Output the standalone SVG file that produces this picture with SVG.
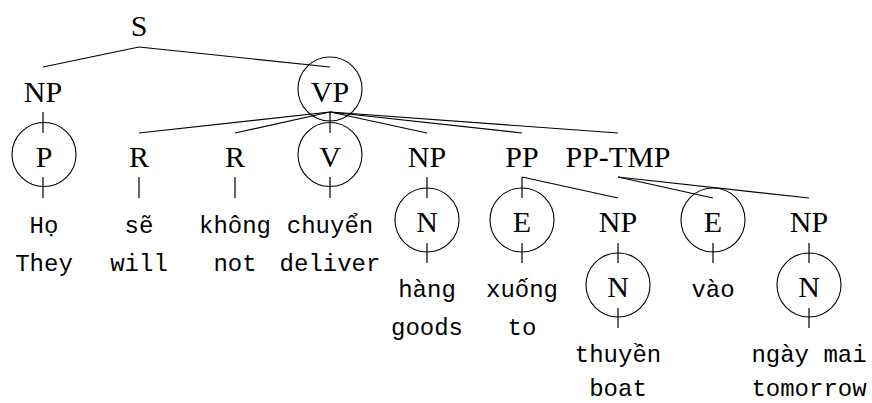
<svg xmlns="http://www.w3.org/2000/svg" width="872" height="403" viewBox="0 0 872 403">
<style>
.lab{font-family:"Liberation Serif","Times New Roman",serif;font-size:30px;fill:#000;text-anchor:middle}
.w{font-family:"Liberation Mono","Courier New",monospace;font-size:24px;fill:#000;text-anchor:middle}
.c{fill:none;stroke:#000;stroke-width:1.1}
line{stroke:#000;stroke-width:1.2}
</style>
<rect width="872" height="403" fill="#fff"/>
<g id="connectors">
<line x1="139" y1="47" x2="43" y2="67"/>
<line x1="139" y1="47" x2="330" y2="67"/>
<line x1="43" y1="112" x2="43" y2="133"/>
<line x1="330" y1="112" x2="139" y2="133"/>
<line x1="330" y1="112" x2="235" y2="133"/>
<line x1="330" y1="112" x2="330" y2="133"/>
<line x1="330" y1="112" x2="427" y2="133"/>
<line x1="330" y1="112" x2="522" y2="133"/>
<line x1="330" y1="112" x2="618" y2="133"/>
<line x1="43" y1="177" x2="43" y2="198"/>
<line x1="139" y1="177" x2="139" y2="198"/>
<line x1="235" y1="177" x2="235" y2="198"/>
<line x1="330" y1="177" x2="330" y2="198"/>
<line x1="427" y1="177" x2="427" y2="198"/>
<line x1="522" y1="177" x2="522" y2="198"/>
<line x1="522" y1="177" x2="618" y2="198"/>
<line x1="618" y1="177" x2="713" y2="198"/>
<line x1="618" y1="177" x2="809" y2="198"/>
<line x1="427" y1="243" x2="427" y2="263"/>
<line x1="522" y1="243" x2="522" y2="263"/>
<line x1="618" y1="243" x2="618" y2="263"/>
<line x1="713" y1="243" x2="713" y2="263"/>
<line x1="809" y1="243" x2="809" y2="263"/>
<line x1="618" y1="308" x2="618" y2="328"/>
<line x1="809" y1="308" x2="809" y2="328"/>
</g>
<g id="S"><text class="lab" x="139" y="36">S</text></g>
<g id="NP1"><text class="lab" x="43" y="102">NP</text></g>
<g id="VP"><circle class="c" cx="330" cy="89" r="32"/><text class="lab" x="330" y="102">VP</text></g>
<g id="P"><circle class="c" cx="44" cy="154.5" r="32"/><text class="lab" x="44" y="167">P</text></g>
<g id="R1"><text class="lab" x="139" y="167">R</text></g>
<g id="R2"><text class="lab" x="235" y="167">R</text></g>
<g id="V"><circle class="c" cx="330" cy="154.5" r="32"/><text class="lab" x="330" y="167">V</text></g>
<g id="NP2"><text class="lab" x="427" y="167">NP</text></g>
<g id="PP"><text class="lab" x="522" y="167">PP</text></g>
<g id="PPTMP"><text class="lab" x="618" y="167">PP-TMP</text></g>
<g id="N1"><circle class="c" cx="427" cy="220" r="32"/><text class="lab" x="427" y="232">N</text></g>
<g id="E1"><circle class="c" cx="522" cy="220" r="32"/><text class="lab" x="522" y="232">E</text></g>
<g id="NP3"><text class="lab" x="618" y="232">NP</text></g>
<g id="E2"><circle class="c" cx="713" cy="220" r="32"/><text class="lab" x="713" y="232">E</text></g>
<g id="NP4"><text class="lab" x="809" y="232">NP</text></g>
<g id="N2"><circle class="c" cx="618" cy="285" r="32"/><text class="lab" x="618" y="297">N</text></g>
<g id="N3"><circle class="c" cx="809" cy="285" r="32"/><text class="lab" x="809" y="297">N</text></g>
<g id="w-ho"><text class="w" x="44" y="233">Họ</text><text class="w" x="44" y="271">They</text></g>
<g id="w-se"><text class="w" x="139" y="233">sẽ</text><text class="w" x="139" y="271">will</text></g>
<g id="w-khong"><text class="w" x="235" y="233">không</text><text class="w" x="235" y="271">not</text></g>
<g id="w-chuyen"><text class="w" x="330" y="233">chuyển</text><text class="w" x="330" y="271">deliver</text></g>
<g id="w-hang"><text class="w" x="427" y="297">hàng</text><text class="w" x="427" y="335">goods</text></g>
<g id="w-xuong"><text class="w" x="522" y="297">xuống</text><text class="w" x="522" y="335">to</text></g>
<g id="w-vao"><text class="w" x="713" y="297">vào</text></g>
<g id="w-thuyen"><text class="w" x="618" y="362">thuyền</text><text class="w" x="618" y="396">boat</text></g>
<g id="w-ngay"><text class="w" x="809" y="362">ngày mai</text><text class="w" x="809" y="396">tomorrow</text></g>
</svg>
